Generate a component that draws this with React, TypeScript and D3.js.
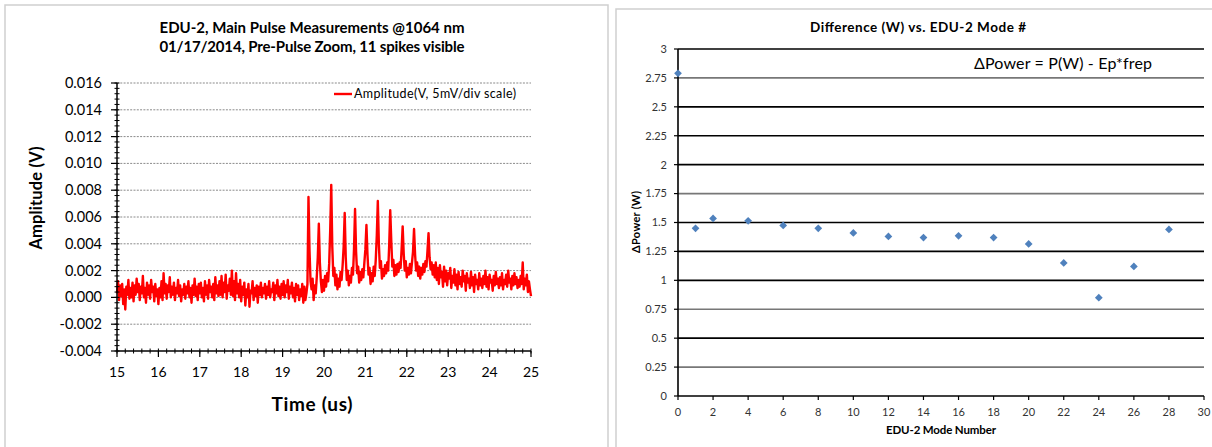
import React from "react";
import * as d3 from "d3";

const W = 1212;
const H = 447;

// Oscilloscope trace (amplitude in mV), sampled every 25 ns starting at 15 us
const traceStart = 15;
const traceStep = 0.025;

const prePulse = [
  0.3, 1.2, -0.2, 0.9, 0.1, 1.0, -0.5, 0.6, -0.9, 0.8, 0.2, 1.3, -0.1, 0.7, 0.0, 1.1, -0.3, 0.9, 0.2, 1.4,
  0.4, 1.0, -0.2, 0.8, 0.3, 1.6, 0.0, 0.7, -0.4, 1.1, 0.2, 0.9, -0.1, 1.3, 0.4, 0.8, -0.3, 1.0, 0.1, 0.6,
  -0.5, 0.7, 0.0, 1.2, -0.2, 1.8, 0.3, 1.0, -0.1, 0.9, 0.4, 1.5, 0.0, 0.8, 0.2, 1.1, -0.2, 0.7, 0.3, 1.3,
  0.1, 0.9, -0.3, 0.6, 0.2, 1.0, -0.1, 0.8, 0.3, 1.2, 0.0, 0.7, -0.4, 0.9, 0.2, 1.4, 0.1, 0.8, -0.2, 1.0,
  0.3, 1.1, 0.0, 0.7, -0.3, 1.2, 0.2, 0.9, -0.1, 1.3, 0.4, 0.8, 0.0, 1.0, -0.2, 1.5, 0.3, 0.9, 0.1, 1.2,
  0.2, 1.6, 0.0, 1.1, 0.4, 1.7, -0.1, 0.9, 0.5, 1.4, 0.2, 2.0, 0.1, 1.2, -0.2, 1.8, 0.3, 1.0, 0.0, 1.3,
  -0.3, 0.8, 0.2, 1.1, -0.6, 0.6, 0.0, 1.0, -0.7, 0.5, 0.3, 1.2, -0.2, 0.7, 0.1, 0.9, -0.4, 0.8, 0.2, 1.1,
  0.0, 0.7, 0.3, 1.0, -0.1, 0.8, 0.2, 1.2, 0.0, 0.6, 0.4, 1.1, -0.2, 0.9, 0.3, 1.3, 0.1, 0.8, -0.1, 1.0,
  0.2, 1.2, 0.0, 0.9, 0.4, 1.3, -0.1, 0.8, 0.3, 1.1, 0.0, 0.7, -0.3, 1.0, 0.2, 0.9, -0.2, 0.6, 0.1, 1.0,
  -0.4, 0.8, -0.2, 0.3,
];

const pulseTrain = [
  1.0, 7.5, 3.5, 1.2, 0.6, 1.4, -0.2, 0.9, 0.3, 1.5,
  3.0, 5.5, 2.6, 1.2, 0.4, 1.3, 0.5, 1.6, 0.8, 1.8,
  1.2, 2.5, 5.0, 8.4, 3.8, 1.6, 2.2, 0.9, 1.7, 0.6,
  1.4, 0.8, 1.9, 1.3, 2.4, 3.8, 6.3, 3.0, 1.3, 2.0,
  0.9, 1.6, 1.1, 2.2, 1.7, 3.6, 6.6, 3.4, 1.8, 2.3,
  1.1, 1.9, 1.3, 2.1, 1.5, 2.6, 3.6, 5.4, 3.2, 1.7,
  2.2, 1.0, 1.8, 1.2, 2.3, 1.6, 2.8, 4.6, 7.2, 4.0,
  2.2, 2.7, 1.4, 2.1, 1.6, 2.4, 1.8, 2.6, 2.0, 3.9,
  6.5, 4.2, 2.3, 2.8, 1.6, 2.4, 1.7, 2.5, 1.9, 2.6,
  2.2, 3.6, 5.3, 3.3, 2.0, 2.7, 1.5, 2.2, 1.7, 2.5,
  1.8, 2.6, 3.4, 5.1, 3.2, 2.0, 2.6, 1.6, 2.3, 1.4,
  2.2, 1.7, 2.5, 1.9, 2.7, 2.3, 3.5, 4.8, 3.0, 2.1,
  2.6, 1.7, 2.4, 1.5,
];

const tail = [
  2.6, 1.3, 2.2, 1.0, 2.4, 1.5, 1.9, 0.8, 2.3, 1.2, 2.0, 0.9, 1.8, 1.4, 2.2, 0.7, 1.6, 1.1, 2.1, 0.9,
  1.7, 0.6, 1.9, 1.0, 1.5, 0.8, 2.0, 1.2, 1.6, 0.5, 1.8, 1.1, 1.4, 0.7, 1.9, 0.9, 1.5, 0.4, 1.7, 1.0,
  1.3, 0.6, 1.8, 0.9, 1.4, 0.7, 1.6, 1.0, 2.0, 0.8, 1.5, 0.6, 1.7, 1.1, 1.3, 0.5, 1.6, 0.9, 1.9, 1.0,
  1.4, 0.7, 1.5, 0.9, 1.8, 0.6, 1.3, 1.0, 1.7, 0.8, 2.0, 1.1, 1.4, 0.6, 1.6, 0.9, 1.8, 1.0, 1.5, 0.7,
  1.3, 0.8, 1.6, 1.0, 2.6, 0.6, 1.4, 0.9, 1.7, 0.4, 1.2, 0.6, 0.1,
];

const ampTicks = [-4, -2, 0, 2, 4, 6, 8, 10, 12, 14, 16];
const ampTickLabels = ["-0.004", "-0.002", "0.000", "0.002", "0.004", "0.006", "0.008", "0.010", "0.012", "0.014", "0.016"];
const timeTicks = [15, 16, 17, 18, 19, 20, 21, 22, 23, 24, 25];

// Power difference per EDU-2 mode
const modeNumbers = [0, 1, 2, 4, 6, 8, 10, 12, 14, 16, 18, 20, 22, 24, 26, 28];
const deltaPower = [2.79, 1.45, 1.535, 1.515, 1.475, 1.45, 1.41, 1.38, 1.37, 1.385, 1.37, 1.315, 1.15, 0.85, 1.12, 1.44];
const powerTicks = [0, 0.25, 0.5, 0.75, 1, 1.25, 1.5, 1.75, 2, 2.25, 2.5, 2.75, 3];
const modeTicks = [0, 2, 4, 6, 8, 10, 12, 14, 16, 18, 20, 22, 24, 26, 28, 30];

const FONT = "Lato, 'Open Sans', sans-serif";

function PulseChart() {
  const x = d3.scaleLinear().domain([15, 25]).range([117, 531]);
  const y = d3.scaleLinear().domain([-4, 16]).range([351, 83]);
  const samples = [...prePulse, ...pulseTrain, ...tail].map((v, i) => ({
    t: traceStart + i * traceStep,
    v,
  }));
  const line = d3
    .line<{ t: number; v: number }>()
    .x((d) => x(d.t))
    .y((d) => y(d.v));
  const minorY = d3.range(-4, 16.001, 0.4);
  const minorX = d3.range(15, 25.001, 0.2);
  const [x0, x1] = x.range();
  const [yb, yt] = y.range();

  return (
    <g>
      <text x={312} y={33} textAnchor="middle" fontFamily={FONT} fontWeight="bold" fontSize={15} textLength={305}>
        EDU-2, Main  Pulse Measurements @1064 nm
      </text>
      <text x={312} y={52} textAnchor="middle" fontFamily={FONT} fontWeight="bold" fontSize={15} textLength={305}>
        01/17/2014, Pre-Pulse Zoom, 11 spikes visible
      </text>

      {ampTicks.slice(1).map((t) => (
        <line key={"g" + t} x1={x0} x2={x1} y1={y(t)} y2={y(t)} stroke="#8a8a8a" strokeWidth={1} strokeDasharray="2,1.3" />
      ))}

      <path d={line(samples) || ""} fill="none" stroke="#ff0000" strokeWidth={2.4} strokeLinejoin="round" />

      <line x1={x0} x2={x0} y1={yt} y2={yb} stroke="#000" strokeWidth={1.5} />
      <line x1={x0} x2={x1} y1={yb} y2={yb} stroke="#000" strokeWidth={1.5} />
      {minorY.map((t, i) => (
        <line key={"my" + i} x1={x0 - 2.5} x2={x0 + 2.5} y1={y(t)} y2={y(t)} stroke="#000" strokeWidth={1} />
      ))}
      {ampTicks.map((t) => (
        <line key={"ty" + t} x1={x0 - 6} x2={x0} y1={y(t)} y2={y(t)} stroke="#000" strokeWidth={1.2} />
      ))}
      {minorX.map((t, i) => (
        <line key={"mx" + i} x1={x(t)} x2={x(t)} y1={yb - 2.5} y2={yb + 2.5} stroke="#000" strokeWidth={1} />
      ))}
      {timeTicks.map((t) => (
        <line key={"tx" + t} x1={x(t)} x2={x(t)} y1={yb} y2={yb + 6} stroke="#000" strokeWidth={1.2} />
      ))}

      {ampTicks.map((t, i) => (
        <text key={"ly" + t} x={102} y={y(t)} dy="0.35em" textAnchor="end" fontFamily={FONT} fontSize={14.5}>
          {ampTickLabels[i]}
        </text>
      ))}
      {timeTicks.map((t) => (
        <text key={"lx" + t} x={x(t)} y={377} textAnchor="middle" fontFamily={FONT} fontSize={14}>
          {t}
        </text>
      ))}

      <text x={312} y={411} textAnchor="middle" fontFamily={FONT} fontWeight="bold" fontSize={19} textLength={81}>
        Time (us)
      </text>
      <text
        transform="translate(36,198) rotate(-90)"
        textAnchor="middle"
        dy="0.35em"
        fontFamily={FONT}
        fontWeight="bold"
        fontSize={16.5}
        textLength={103}
      >
        Amplitude (V)
      </text>

      <line x1={334} x2={352} y1={94} y2={94} stroke="#ff0000" strokeWidth={2.4} />
      <text x={354} y={94} dy="0.35em" fontFamily={FONT} fontSize={12.5} textLength={162}>
        Amplitude(V, 5mV/div scale)
      </text>
    </g>
  );
}

function DifferenceChart() {
  const x = d3.scaleLinear().domain([0, 30]).range([678, 1204]);
  const y = d3.scaleLinear().domain([0, 3]).range([396, 49]);
  const [x0, x1] = x.range();
  const [yb] = y.range();
  const diamond = d3.symbol().type(d3.symbolSquare).size(30)() || "";
  const paleLines = new Set([0.25, 0.75, 1.75, 2.75]);

  return (
    <g>
      <text x={918} y={32} textAnchor="middle" fontFamily={FONT} fontWeight="bold" fontSize={13.5} textLength={216}>
        Difference (W) vs. EDU-2 Mode #
      </text>

      {powerTicks.slice(1).map((t) => (
        <line
          key={"g" + t}
          x1={x0}
          x2={x1}
          y1={y(t)}
          y2={y(t)}
          stroke={paleLines.has(t) ? "#777" : "#000"}
          strokeWidth={1.6}
        />
      ))}

      <line x1={x0} x2={x0} y1={y(3)} y2={yb} stroke="#000" strokeWidth={1.6} />
      <line x1={x0} x2={x1} y1={yb} y2={yb} stroke="#000" strokeWidth={1.6} />
      {powerTicks.map((t) => (
        <line key={"ty" + t} x1={x0 - 4} x2={x0} y1={y(t)} y2={y(t)} stroke="#000" strokeWidth={1.2} />
      ))}
      {modeTicks.map((t) => (
        <line key={"tx" + t} x1={x(t)} x2={x(t)} y1={yb} y2={yb + 4} stroke="#000" strokeWidth={1.2} />
      ))}

      {powerTicks.map((t) => (
        <text key={"ly" + t} x={667} y={y(t)} dy="0.35em" textAnchor="end" fontFamily={FONT} fontSize={11} fill="#333">
          {t}
        </text>
      ))}
      {modeTicks.map((t) => (
        <text key={"lx" + t} x={x(t)} y={416} textAnchor="middle" fontFamily={FONT} fontSize={11} fill="#333">
          {t}
        </text>
      ))}

      {modeNumbers.map((m, i) => (
        <path
          key={"p" + m}
          d={diamond}
          transform={`translate(${x(m)},${y(deltaPower[i])}) rotate(45)`}
          fill="#4f81bd"
        />
      ))}

      <text x={974} y={63} dy="0.35em" fontFamily={FONT} fontSize={16} textLength={178}>
        ΔPower = P(W) - Ep*frep
      </text>

      <text x={941} y={434} textAnchor="middle" fontFamily={FONT} fontWeight="bold" fontSize={11.5} textLength={110}>
        EDU-2 Mode Number
      </text>
      <text
        transform="translate(636,222) rotate(-90)"
        textAnchor="middle"
        dy="0.35em"
        fontFamily={FONT}
        fontWeight="bold"
        fontSize={11}
        textLength={62}
      >
        ΔPower (W)
      </text>
    </g>
  );
}

export default function App() {
  return (
    <svg
      width={W}
      height={H}
      viewBox={`0 0 ${W} ${H}`}
      style={{ position: "absolute", left: 0, top: 0, background: "#fff" }}
    >
      <rect x={0} y={0} width={W} height={H} fill="#fff" />
      <rect x={5} y={5} width={603} height={460} fill="none" stroke="#cfcfcf" strokeWidth={1.5} />
      <rect x={616} y={9} width={620} height={460} fill="none" stroke="#cfcfcf" strokeWidth={1.5} />
      <PulseChart />
      <DifferenceChart />
    </svg>
  );
}
